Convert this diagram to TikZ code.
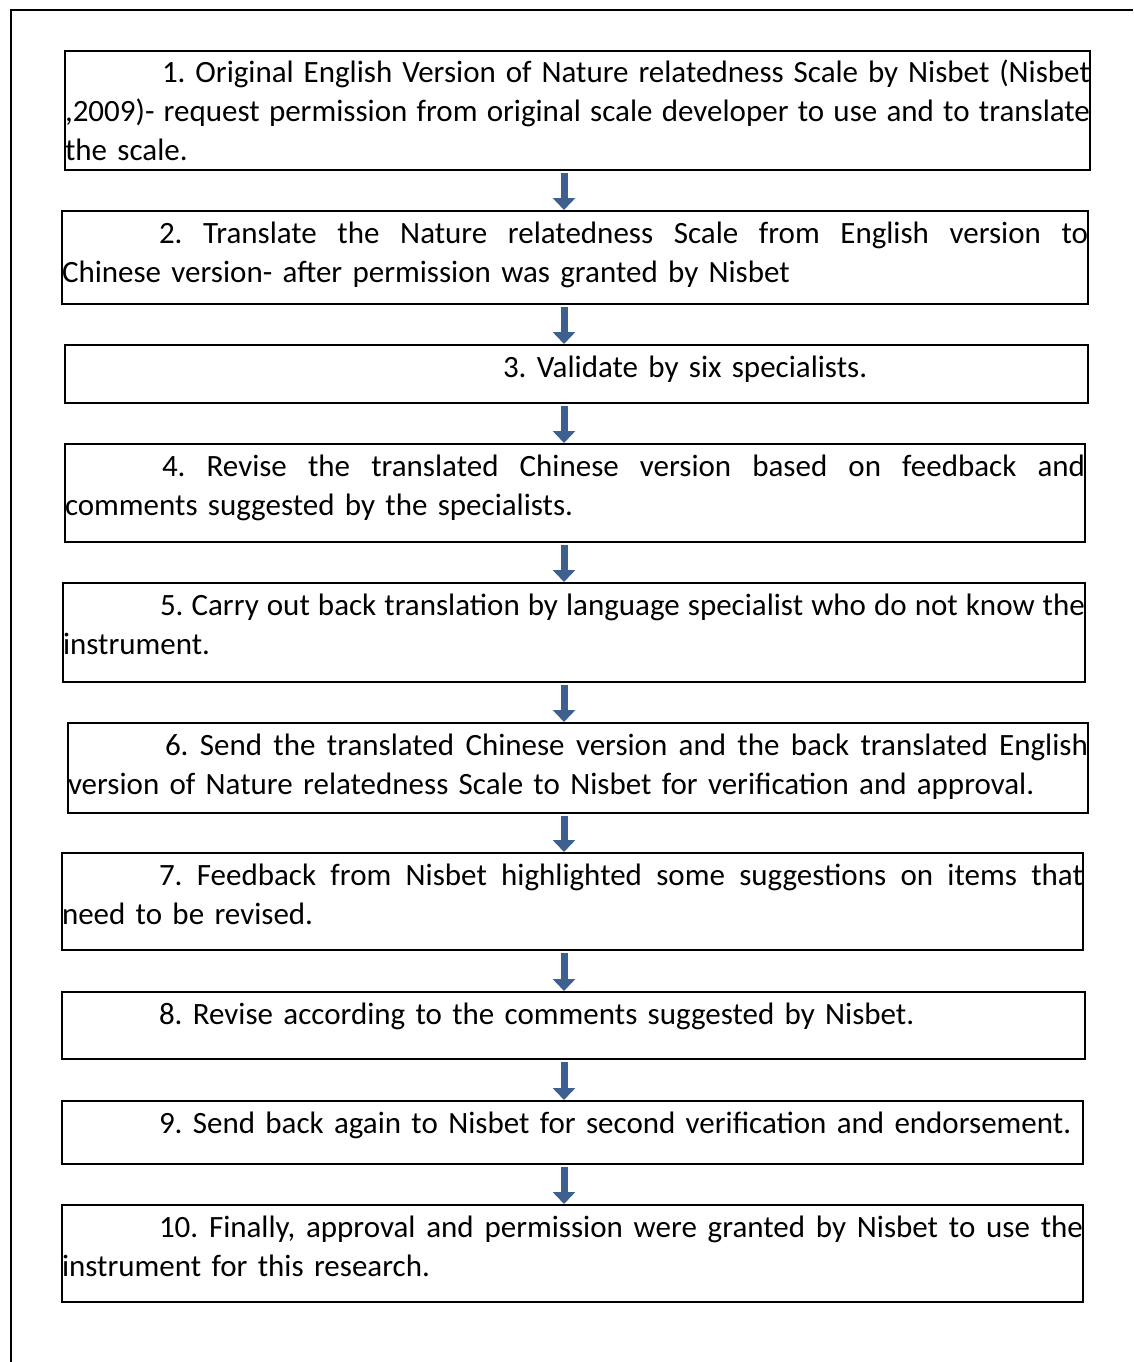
\documentclass[tikz,border=0pt]{standalone}
\usepackage{fontspec}
\setmainfont{Carlito}
\usetikzlibrary{arrows.meta,calc}
\definecolor{arrowblue}{RGB}{62,96,145}
\def\jlend{JLEND}
\def\jlsep{\hskip 7pt plus 1fil minus 1fil\relax}
\def\jlfirst#1 {#1\jlw}
\def\jlw#1 {\ifx\jlend#1\else\jlsep#1\expandafter\jlw\fi}
\newcommand{\jl}[2]{\leavevmode\hbox to #1{\jlfirst#2 \jlend{} }}
\newcommand{\ind}{\hspace*{97pt}}
\newcommand{\fst}{\rule{0pt}{32pt}}
\newcommand{\txtfont}{\fontsize{31}{39}\selectfont\frenchspacing}
\begin{document}
\begin{tikzpicture}[x=1pt,y=-1pt,
  box/.style={draw=black, line width=1.8pt, rectangle, inner sep=0pt, outer sep=0pt, anchor=north west},
  txt/.style={inner sep=0pt, outer sep=0pt, anchor=north west, align=left, font=\txtfont},
  flow/.style={draw=arrowblue, line width=7pt, -{Triangle[width=22pt,length=12pt]}, shorten <=3pt, shorten >=1pt},
  frame/.style={draw=black, line width=1.8pt}]
\useasboundingbox (0,0) rectangle (1133,1362);
% outer frame (left and top edges only)
\coordinate (f1) at (11,1362);
\coordinate (f2) at (11,10);
\coordinate (f3) at (1133,10);
\draw[frame] (f1) -- (f2) -- (f3);
\coordinate (ax) at (564,0);
% boxes
\node[box, minimum width=1025pt, minimum height=119pt] (b1) at (65,51) {};
\node[box, minimum width=1026pt, minimum height=93pt] (b2) at (62,211) {};
\node[box, minimum width=1023pt, minimum height=58pt] (b3) at (65,345) {};
\node[box, minimum width=1020pt, minimum height=98pt] (b4) at (65,444) {};
\node[box, minimum width=1022pt, minimum height=99pt] (b5) at (63,583) {};
\node[box, minimum width=1020pt, minimum height=90pt] (b6) at (68,723) {};
\node[box, minimum width=1021pt, minimum height=97pt] (b7) at (62,853) {};
\node[box, minimum width=1023pt, minimum height=67pt] (b8) at (62,992) {};
\node[box, minimum width=1021pt, minimum height=63pt] (b9) at (62,1101) {};
\node[box, minimum width=1021pt, minimum height=97pt] (b10) at (62,1205) {};
% texts
\node[txt, text width=1025pt] (t1) at (b1.north west) {\fst\jl{1025pt}{\ind 1. Original English Version of Nature relatedness Scale by Nisbet (Nisbet}\\\jl{1025pt}{,2009)- request permission from original scale developer to use and to translate}\\the scale.};
\node[txt, text width=1026pt] (t2) at (b2.north west) {\fst\jl{1026pt}{\ind 2. Translate the Nature relatedness Scale from English version to}\\Chinese version- after permission was granted by Nisbet};
\node[txt, text width=1023pt] (t3) at (b3.north west) {\fst\hspace*{438pt}3. Validate by six specialists.};
\node[txt, text width=1020pt] (t4) at (b4.north west) {\fst\jl{1020pt}{\ind 4. Revise the translated Chinese version based on feedback and}\\comments suggested by the specialists.};
\node[txt, text width=1022pt] (t5) at (b5.north west) {\fst\jl{1022pt}{\ind 5. Carry out back translation by language specialist who do not know the}\\instrument.};
\node[txt, text width=1020pt] (t6) at (b6.north west) {\fst\jl{1020pt}{\ind 6. Send the translated Chinese version and the back translated English}\\version of Nature relatedness Scale to Nisbet for verification and approval.};
\node[txt, text width=1021pt] (t7) at (b7.north west) {\fst\jl{1021pt}{\ind 7. Feedback from Nisbet highlighted some suggestions on items that}\\need to be revised.};
\node[txt, text width=1023pt] (t8) at (b8.north west) {\fst\ind 8. Revise according to the comments suggested by Nisbet.};
\node[txt, text width=1021pt] (t9) at (b9.north west) {\fst\ind 9. Send back again to Nisbet for second verification and endorsement.};
\node[txt, text width=1021pt] (t10) at (b10.north west) {\fst\jl{1021pt}{\ind 10. Finally, approval and permission were granted by Nisbet to use the}\\instrument for this research.};
% arrows
\draw[flow] (b1.south -| ax) -- (b2.north -| ax);
\draw[flow] (b2.south -| ax) -- (b3.north -| ax);
\draw[flow] (b3.south -| ax) -- (b4.north -| ax);
\draw[flow] (b4.south -| ax) -- (b5.north -| ax);
\draw[flow] (b5.south -| ax) -- (b6.north -| ax);
\draw[flow] (b6.south -| ax) -- (b7.north -| ax);
\draw[flow] (b7.south -| ax) -- (b8.north -| ax);
\draw[flow] (b8.south -| ax) -- (b9.north -| ax);
\draw[flow] (b9.south -| ax) -- (b10.north -| ax);
\end{tikzpicture}
\end{document}
